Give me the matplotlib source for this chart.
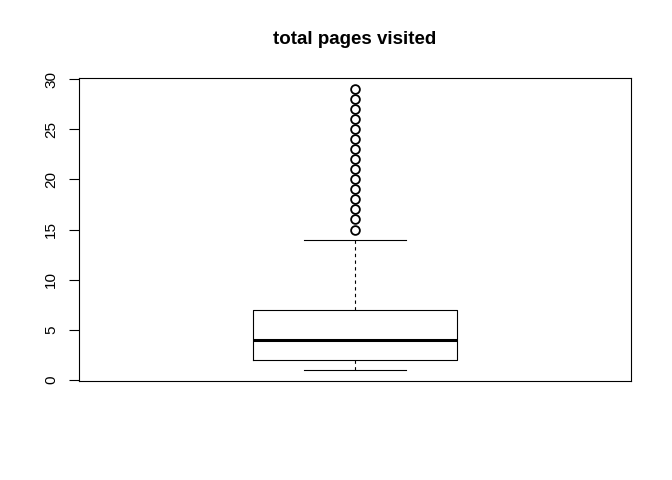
import matplotlib
matplotlib.use("Agg")
import matplotlib.pyplot as plt

# box statistics
q1 = 2
median = 4
q3 = 7
whisker_low = 1
whisker_high = 14
outliers = [15, 16, 17, 18, 19, 20, 21, 22, 23, 24, 25, 26, 27, 28, 29]
yticks = [0, 5, 10, 15, 20, 25, 30]

plt.rcParams["font.family"] = ["Liberation Sans", "DejaVu Sans"]

fig = plt.figure(figsize=(6.72, 4.8), dpi=100)
ax = fig.add_axes([79 / 672, 99 / 480, 552 / 672, 303 / 480])

stats = [{
    "med": median, "q1": q1, "q3": q3,
    "whislo": whisker_low, "whishi": whisker_high,
    "fliers": outliers, "label": "",
}]
ax.bxp(
    stats, positions=[0.5], widths=0.37,
    boxprops=dict(color="black", linewidth=0.8),
    medianprops=dict(color="black", linewidth=2.2, solid_capstyle="butt"),
    whiskerprops=dict(color="black", linewidth=0.8, linestyle=(0, (3, 3))),
    capprops=dict(color="black", linewidth=0.8),
    flierprops=dict(marker="o", markerfacecolor="none", markeredgecolor="black",
                    markersize=6.3, markeredgewidth=1.3),
    capwidths=0.185,
)

ax.set_xlim(0, 1)
ax.set_ylim(-0.12, 30.12)
ax.set_xticks([])
ax.set_yticks(yticks)
ax.set_yticklabels([str(t) for t in yticks], rotation=90, va="center", fontsize=11)
ax.tick_params(axis="y", length=7, width=0.8, pad=8)
for s in ax.spines.values():
    s.set_linewidth(0.8)

fig.text(355 / 672, 1 - 40 / 480, "total pages visited", ha="center", va="center",
         fontsize=13.5, fontweight="bold")

fig.savefig("out.png", dpi=100)
